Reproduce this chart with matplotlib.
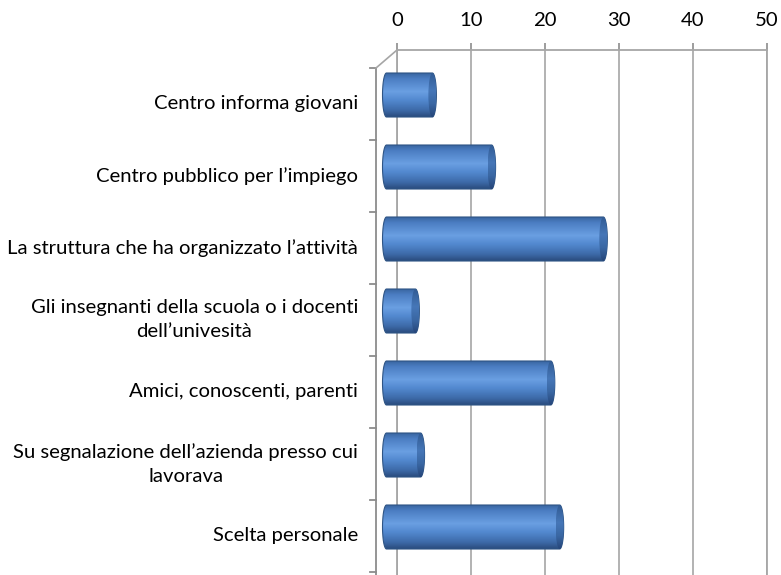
import numpy as np
import matplotlib
matplotlib.use("Agg")
import matplotlib.pyplot as plt
from matplotlib.transforms import ScaledTranslation
from matplotlib.path import Path
from matplotlib.patches import PathPatch, Ellipse
from matplotlib.colors import to_rgb

# ---- data ----
categories = [
    "Centro informa giovani",
    "Centro pubblico per l\u2019impiego",
    "La struttura che ha organizzato l\u2019attivit\u00e0",
    "Gli insegnanti della scuola o i docenti\ndell\u2019univesit\u00e0",
    "Amici, conoscenti, parenti",
    "Su segnalazione dell\u2019azienda presso cui\nlavorava",
    "Scelta personale",
]
values = [6.2, 14.2, 29.3, 3.9, 22.2, 4.6, 23.4]
xticks = [0, 10, 20, 30, 40, 50]

W, H, DPI = 781, 575, 100
FONT = "Lato"
FS = 14.6

fig = plt.figure(figsize=(W / DPI, H / DPI), dpi=DPI)
ax_left, ax_right, ax_top = 397, 767, 50
cat_px = 72.0
ax = fig.add_axes([ax_left / W, 0, (ax_right - ax_left) / W, (H - ax_top) / H])
ax.set_xlim(0, 50)
ybottom = -0.5 + (H - ax_top) / cat_px
ax.set_ylim(ybottom, -0.5)
ax.set_autoscale_on(False)

grid_col = "#a6a6a6"
ax.xaxis.tick_top()
ax.set_xticks(xticks)
ax.set_xticklabels([str(t) for t in xticks], fontfamily=FONT, fontsize=FS)
ax.tick_params(axis="x", length=5, width=1.2, color="#8c8c8c", pad=10)
ax.set_yticks([])
ax.grid(axis="x", color=grid_col, linewidth=1.2)
ax.set_axisbelow(True)
ax.spines["bottom"].set_visible(False)
for s in ["top", "right", "left"]:
    ax.spines[s].set_color(grid_col)
    ax.spines[s].set_linewidth(1.3)

mid = ax.transData + ScaledTranslation(-10.5 / DPI, -9 / DPI, fig.dpi_scale_trans)
front_off = ScaledTranslation(-21 / DPI, -18 / DPI, fig.dpi_scale_trans)
front = ax.transData + front_off

# front axis line, ticks and connecting diagonal
ax.plot([0, 0], [-0.5, ybottom + 1], color="#8c8c8c", lw=1.3, transform=front, clip_on=False)
for k in range(len(categories) + 1):
    ax.plot([0, -6 / 7.4], [k - 0.5, k - 0.5], color="#8c8c8c", lw=1.3, transform=front, clip_on=False)
dx0, dy0 = ax.transData.transform((0, -0.5))
dx1, dy1 = front.transform((0, -0.5))
fig.add_artist(plt.Line2D([dx0 / W, dx1 / W], [dy0 / H, dy1 / H], color="#a6a6a6", lw=1.2,
                          transform=fig.transFigure))

# gradients
def grad(stops, n=64):
    pos = np.array([p for p, _ in stops])
    cols = np.array([to_rgb(c) for _, c in stops])
    tt = np.linspace(0, 1, n)
    arr = np.stack([np.interp(tt, pos, cols[:, i]) for i in range(3)], axis=1)
    return arr[:, None, :]

body_grad = grad([(0.0, "#3a67a3"), (0.12, "#4b7dc2"), (0.42, "#6a9fe2"),
                  (0.62, "#5288cf"), (0.85, "#3d6aa8"), (1.0, "#2a4c7e")])
cap_grad = grad([(0.0, "#325c95"), (0.4, "#4677b8"), (0.7, "#3a67a3"), (1.0, "#26467a")])

h = 44 / cat_px
a = 4 / 7.4
t = np.linspace(-np.pi / 2, np.pi / 2, 40)
for i, v in enumerate(values):
    y = i
    rx = v + a * np.cos(t)
    ry = y + (h / 2) * np.sin(t)
    lx = 0 - a * np.cos(t[::-1])
    ly = y + (h / 2) * np.sin(t[::-1])
    verts = np.column_stack([np.concatenate([rx, lx]), np.concatenate([ry, ly])])
    path = Path(np.vstack([verts, verts[:1]]), closed=True)
    patch = PathPatch(path, facecolor="none", edgecolor="#2f5585", lw=0.8, transform=mid,
                      zorder=4, clip_on=False)
    ax.add_patch(patch)
    im = ax.imshow(body_grad, extent=(-a, v + a, y + h / 2, y - h / 2), origin="upper",
                   aspect="auto", transform=mid, interpolation="bilinear", zorder=3)
    im.set_clip_box(fig.bbox)
    im.set_clip_path(patch)
    cap = Ellipse((v, y), 2 * a, h, facecolor="none", edgecolor="none", transform=mid,
                  zorder=5, clip_on=False)
    ax.add_patch(cap)
    im2 = ax.imshow(cap_grad, extent=(v - a, v + a, y + h / 2, y - h / 2), origin="upper",
                    aspect="auto", transform=mid, interpolation="bilinear", zorder=5)
    im2.set_clip_box(fig.bbox)
    im2.set_clip_path(cap)

ax.set_xlim(0, 50)
ax.set_ylim(ybottom, -0.5)

# category labels (front plane)
lab_tr = ax.get_yaxis_transform() + ScaledTranslation(-39 / DPI, -18 / DPI, fig.dpi_scale_trans)
for i, c in enumerate(categories):
    ax.text(0, i, c, transform=lab_tr, ha="right", va="center", multialignment="center",
            fontfamily=FONT, fontsize=FS, color="#000000", linespacing=1.5, clip_on=False)

fig.savefig("out.png", dpi=DPI)
